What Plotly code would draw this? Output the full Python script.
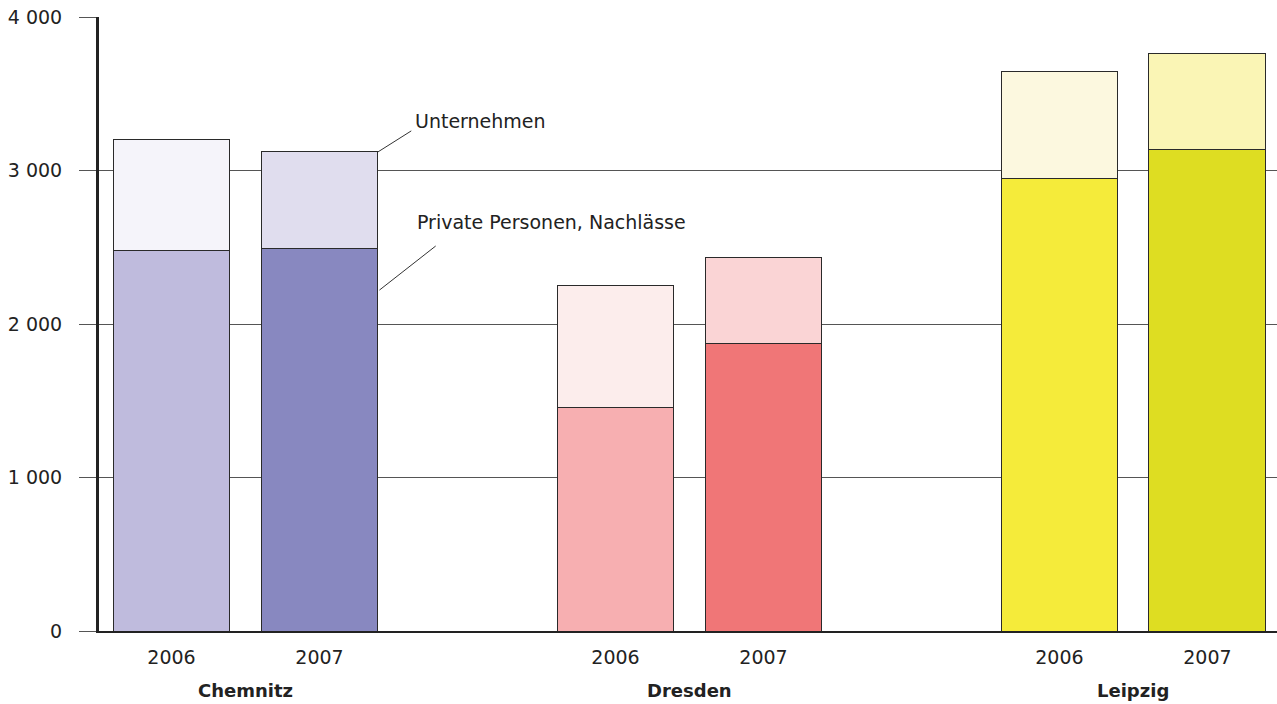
import plotly.graph_objects as go

cities = ["Chemnitz", "Dresden", "Leipzig"]
years = ["2006", "2007", "2006", "2007", "2006", "2007"]
positions = [0.5, 1.5, 3.5, 4.5, 6.5, 7.5]
private = [2482, 2495, 1459, 1870, 2951, 3140]
unternehmen = [717, 626, 795, 566, 697, 619]
private_colors = ["#BFBBDD", "#8888C0", "#F7AFB1", "#F07677", "#F5EB3A", "#DEDD22"]
unt_colors = ["#F5F4FA", "#E0DDEE", "#FCEDEC", "#FAD4D5", "#FCF8DF", "#FAF5B5"]
city_centers = [1.0, 4.0, 7.0]
bar_width = 0.79

FONT = "DejaVu Sans"
TXT = "#222222"
FS = 19

fig = go.Figure()
fig.add_trace(go.Bar(x=positions, y=private, width=bar_width,
                     marker=dict(color=private_colors, line=dict(color="#2a2a2a", width=1)),
                     name="Private Personen, Nachlässe", hoverinfo="y"))
fig.add_trace(go.Bar(x=positions, y=unternehmen, width=bar_width,
                     marker=dict(color=unt_colors, line=dict(color="#2a2a2a", width=1)),
                     name="Unternehmen", hoverinfo="y"))

totals = [p + u for p, u in zip(private, unternehmen)]
# leader lines from Chemnitz 2007 bar
xe = positions[1] + bar_width / 2
fig.add_shape(type="line", x0=xe, y0=totals[1], x1=xe + 0.225, y1=totals[1] + 137,
              line=dict(color="#333", width=1))
fig.add_shape(type="line", x0=xe + 0.01, y0=2221, x1=xe + 0.39, y1=2508,
              line=dict(color="#333", width=1))
fig.add_annotation(x=xe + 0.235, y=totals[1] + 200, text="Unternehmen", showarrow=False,
                   xanchor="left", yanchor="middle", font=dict(family=FONT, size=FS, color=TXT))
fig.add_annotation(x=xe + 0.25, y=2665, text="Private Personen, Nachlässe", showarrow=False,
                   xanchor="left", yanchor="middle", font=dict(family=FONT, size=FS, color=TXT))

for c, xc in zip(cities, city_centers):
    fig.add_annotation(x=xc, y=0, yref="paper", yshift=-59, text="<b>" + c + "</b>",
                       showarrow=False, xanchor="center", yanchor="middle",
                       font=dict(family=FONT, size=18, color=TXT))

fig.update_layout(
    barmode="stack", showlegend=False, width=1277, height=704,
    margin=dict(l=99, r=0, t=17, b=73),
    plot_bgcolor="white", paper_bgcolor="white",
    font=dict(family=FONT, size=FS, color=TXT),
    xaxis=dict(range=[0.01, 7.97], tickvals=positions, ticktext=years, ticks="",
               showgrid=False, zeroline=False, showline=True, linecolor="#222", linewidth=2,
               ticklabelstandoff=8, tickfont=dict(family=FONT, size=FS, color=TXT)),
    yaxis=dict(range=[0, 4000], tickvals=[0, 1000, 2000, 3000, 4000],
               ticktext=["0", "1 000", "2 000", "3 000", "4 000"],
               showgrid=True, gridcolor="#555", gridwidth=1, zeroline=False,
               showline=True, linecolor="#222", linewidth=3,
               ticks="outside", ticklen=17, tickcolor="#555", tickwidth=1,
               ticklabelstandoff=13, tickfont=dict(family=FONT, size=FS, color=TXT)),
)

fig.write_html("out.html")
